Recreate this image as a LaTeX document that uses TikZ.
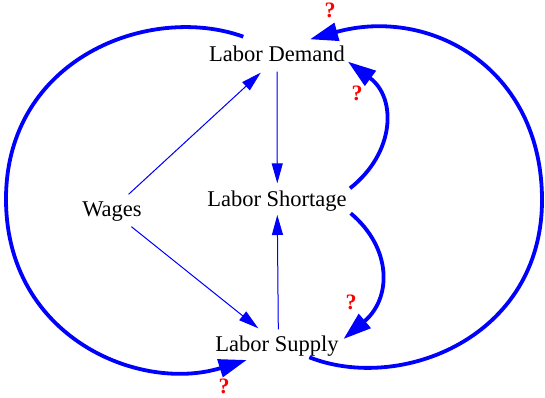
\documentclass[tikz,border=0pt]{standalone}
\usepackage{fontspec}
\setmainfont{Liberation Serif}
\usetikzlibrary{arrows.meta,calc}
\begin{document}
\begin{tikzpicture}[x=1pt,y=1pt,
  lbl/.style={inner sep=0pt,anchor=base,font=\fontsize{22.5}{27}\selectfont},
  qm/.style={inner sep=0pt,text=red,font=\fontsize{22}{26}\selectfont\bfseries},
  thin edge/.style={draw=blue,line width=1pt,-{Triangle[length=20pt,width=11pt]},fill=blue},
  thick edge/.style={draw=blue,line width=3.8pt,-{Triangle[length=28pt,width=18pt]}}]
\useasboundingbox (0,0) rectangle (545,398);
\node[lbl] (ld) at (277,336) {Labor Demand};
\node[lbl] (lsh) at (277,191) {Labor Shortage};
\node[lbl] (wg) at (112,181) {Wages};
\node[lbl] (ls) at (277,46.5) {Labor Supply};
% thin edges
\draw[thin edge] ($(wg.base)+(16.6,22.7)$) -- ($(ld.base)+(-16.3,-10.7)$);
\draw[thin edge] ($(wg.base)+(19.4,-9.7)$) -- ($(ls.base)+(-18.7,23.2)$);
\draw[thin edge] ($(ld.base)+(0,-9.7)$) -- ($(lsh.base)+(0.3,23.7)$);
\draw[thin edge] ($(ls.base)+(1.3,22.2)$) -- ($(lsh.base)+(0.3,-8)$);
% thick edges
\draw[thick edge] ($(lsh.base)+(73,18.7)$) .. controls (395,245) and (397,300) .. ($(ld.base)+(71,0.3)$);
\draw[thick edge] ($(lsh.base)+(73.7,-6.3)$) .. controls (392,150) and (392,100) .. ($(ls.base)+(66.5,12.5)$);
\draw[thick edge] ($(ld.base)+(-33.7,25.3)$) .. controls (150,395) and (6,340) .. (6,199)
  .. controls (6,60) and (140,5) .. ($(ls.base)+(-30.3,-8.5)$);
\draw[thick edge] ($(ls.base)+(32.3,-5.8)$) .. controls (400,5) and (542,60) .. (542,198)
  .. controls (542,330) and (430,392) .. ($(ld.base)+(33,22.7)$);
% question marks
\node[qm] (q1) at (330,387.5) {?};
\node[qm] (q2) at (357,305) {?};
\node[qm] (q3) at (351,95.5) {?};
\node[qm] (q4) at (224,12) {?};
\end{tikzpicture}
\end{document}
